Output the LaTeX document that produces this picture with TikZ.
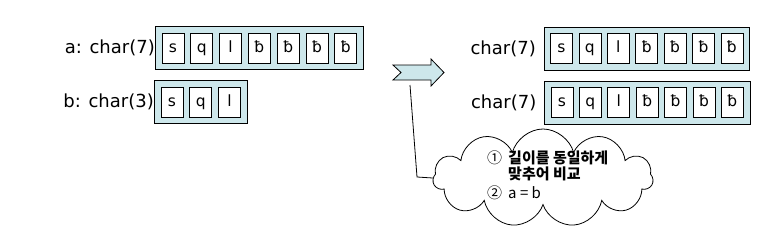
\documentclass[tikz,border=0pt]{standalone}
\usepackage{fontspec}
\setmainfont{DejaVu Sans}
\newfontfamily\krfont{Noto Sans CJK KR}
\usetikzlibrary{positioning,fit,backgrounds,shapes.symbols}
\definecolor{boxblue}{RGB}{205,231,235}
\tikzset{
char_cell/.style={rectangle, draw, fill=white, line width=0.8pt, minimum width=22pt, minimum height=30pt, inner sep=0pt, outer sep=0pt, text height=11pt, text depth=3pt, font=\fontsize{15.5}{15.5}\selectfont},
char_box/.style={rectangle, draw, fill=boxblue, line width=0.8pt, inner sep=6.5pt, outer sep=0pt},
var_label/.style={inner sep=0pt, font=\fontsize{18}{18}\selectfont},
block_arrow/.style={draw, fill=boxblue, line width=0.8pt, line join=miter},
memo_cloud/.style={cloud, draw, cloud puffs=11, aspect=2.2, line width=0.8pt, minimum width=220pt, minimum height=98pt, inner sep=0pt},
memo_text/.style={inner sep=0pt, align=left, font=\krfont\fontsize{15}{19}\selectfont}
}

\begin{document}
\begin{tikzpicture}[x=1pt, y=-1pt]
    \useasboundingbox (0,0) rectangle (777,231);
    % variable a
    \node[char_cell] (a_1) at (173,48) {s};
    \node[char_cell] (a_2) [right=6.8pt of a_1] {q};
    \node[char_cell] (a_3) [right=6.8pt of a_2] {l};
    \node[char_cell] (a_4) [right=6.8pt of a_3] {ƀ};
    \node[char_cell] (a_5) [right=6.8pt of a_4] {ƀ};
    \node[char_cell] (a_6) [right=6.8pt of a_5] {ƀ};
    \node[char_cell] (a_7) [right=6.8pt of a_6] {ƀ};
    % variable b
    \node[char_cell] (b_1) at (172,102) {s};
    \node[char_cell] (b_2) [right=6.8pt of b_1] {q};
    \node[char_cell] (b_3) [right=6.8pt of b_2] {l};
    % padded a
    \node[char_cell] (c_1) at (561.5,48.5) {s};
    \node[char_cell] (c_2) [right=6.4pt of c_1] {q};
    \node[char_cell] (c_3) [right=6.4pt of c_2] {l};
    \node[char_cell] (c_4) [right=6.4pt of c_3] {ƀ};
    \node[char_cell] (c_5) [right=6.4pt of c_4] {ƀ};
    \node[char_cell] (c_6) [right=6.4pt of c_5] {ƀ};
    \node[char_cell] (c_7) [right=6.4pt of c_6] {ƀ};
    % padded b
    \node[char_cell] (d_1) at (562,102.5) {s};
    \node[char_cell] (d_2) [right=6.4pt of d_1] {q};
    \node[char_cell] (d_3) [right=6.4pt of d_2] {l};
    \node[char_cell] (d_4) [right=6.4pt of d_3] {ƀ};
    \node[char_cell] (d_5) [right=6.4pt of d_4] {ƀ};
    \node[char_cell] (d_6) [right=6.4pt of d_5] {ƀ};
    \node[char_cell] (d_7) [right=6.4pt of d_6] {ƀ};
    \begin{scope}[on background layer]
        \node[char_box, fit=(a_1) (a_7)] (a_box) {};
        \node[char_box, fit=(b_1) (b_3)] (b_box) {};
        \node[char_box, fit=(c_1) (c_7)] (c_box) {};
        \node[char_box, fit=(d_1) (d_7)] (d_box) {};
    \end{scope}
    \node[var_label] (a_label) [left=0.5pt of a_box] {a: char(7)};
    \node[var_label] (b_label) [left=0.5pt of b_box] {b: char(3)};
    \node[var_label] (c_label) [left=8pt of c_box] {char(7)};
    \node[var_label] (d_label) [left=8pt of d_box] {char(7)};
    % arrow and note
    \draw[block_arrow] (393,65) -- (431,65) -- (431,59) -- (444,72.5) -- (431,86) -- (431,80) -- (393,80) -- (401,72.5) -- cycle;
    \coordinate (arrow_foot) at (410,85);
    \coordinate (note_bend) at (417,177);
    \node[memo_cloud] (memo) at (543,178) {};
    \node[memo_text, anchor=west] (memo_note) at (487,177) {%
        \begin{tabular}{@{}l@{\hspace{6pt}}l@{}}
        ① & \bfseries 길이를 동일하게\\[-3pt]
          & \bfseries 맞추어 비교\\
        ② & a = b
        \end{tabular}};
    \draw[line width=0.8pt] (arrow_foot) -- (note_bend) -- (memo.west);
\end{tikzpicture}
\end{document}
